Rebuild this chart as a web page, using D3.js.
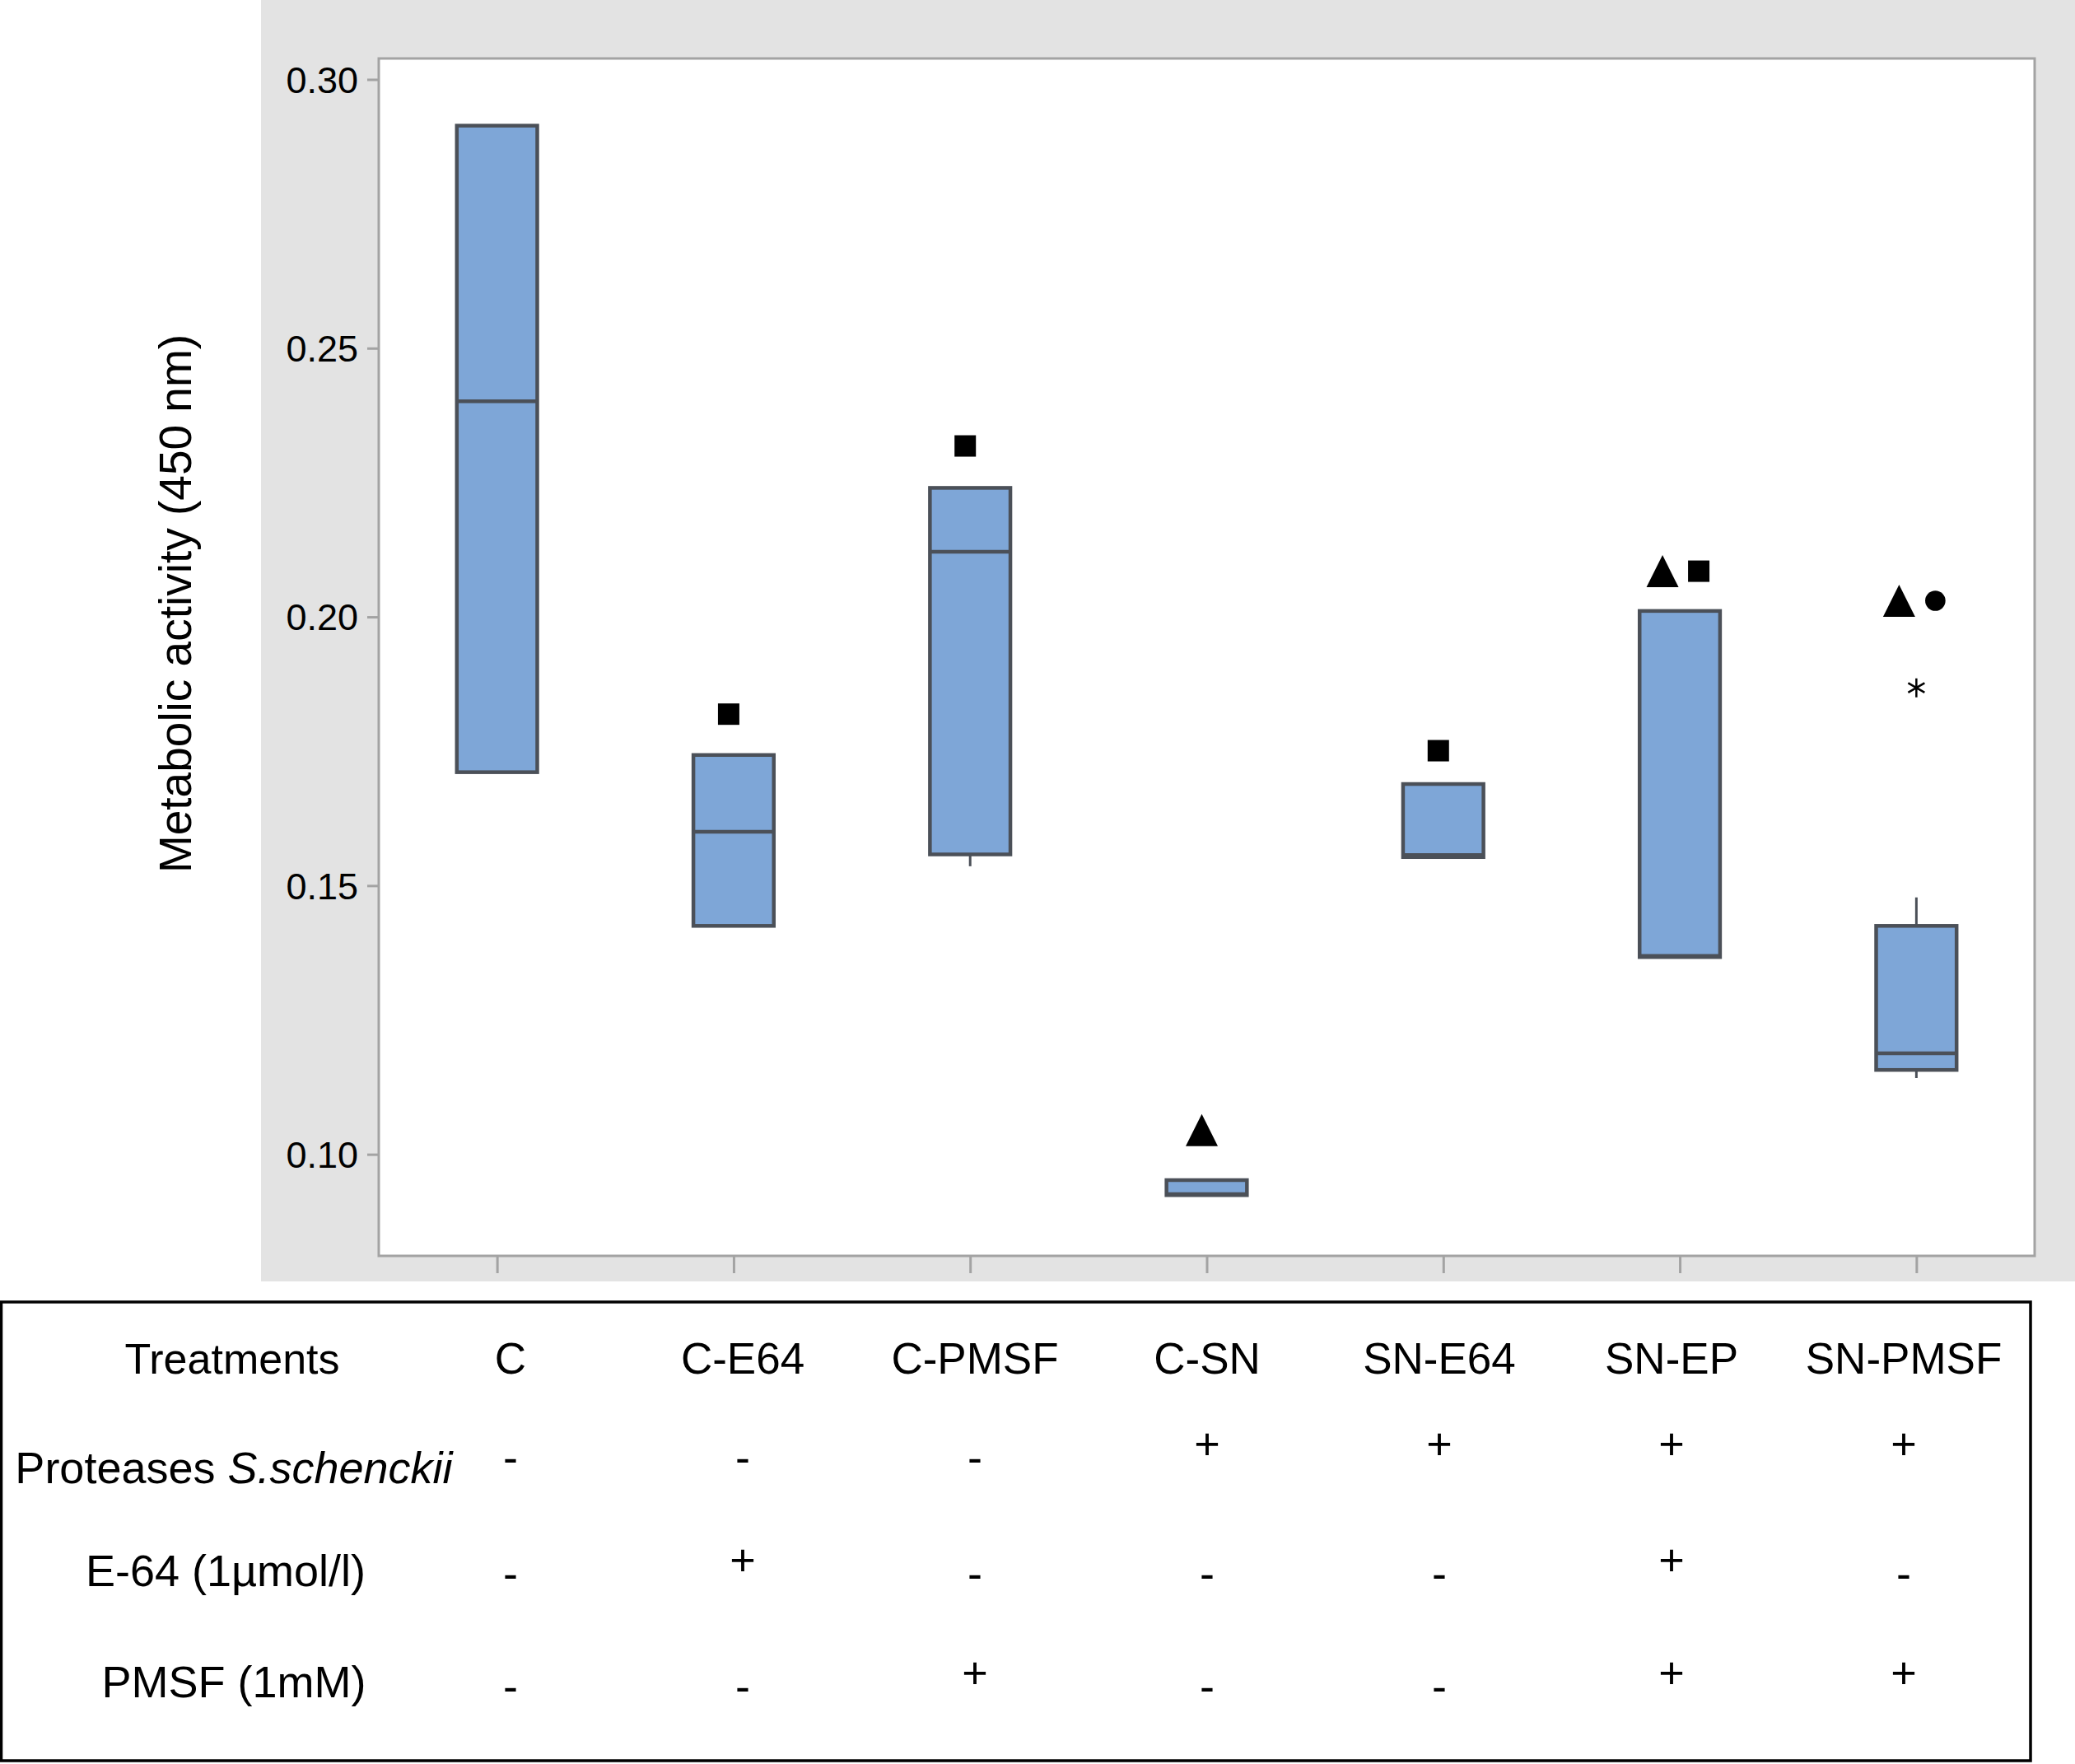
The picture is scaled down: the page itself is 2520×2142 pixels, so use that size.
<!DOCTYPE html>
<html>
<head>
<meta charset="utf-8">
<script src="https://cdn.jsdelivr.net/npm/d3@7"></script>
<style>
	body { margin: 0; background: #fff; }
	text { font-family: "Liberation Sans", Arial, Helvetica, sans-serif; fill: #000; }
</style>
</head>
<body>
<div class="chart"></div>
<script>
// ---------------------------------- DATA ----------------------------------
var treatments = ["C", "C-E64", "C-PMSF", "C-SN", "SN-E64", "SN-EP", "SN-PMSF"];
var q1     = [0.1711, 0.1425, 0.1558, 0.0924, 0.1553, 0.1367, 0.1157];
var median = [0.2401, 0.1600, 0.2121, 0.0926, 0.1557, 0.1369, 0.1188];
var q3     = [0.2914, 0.1743, 0.2240, 0.0952, 0.1689, 0.2011, 0.1425];
var whiskerLow  = [null, null, 0.1536, null, null, null, 0.1142];
var whiskerHigh = [null, null, null,   null, null, null, 0.1478];
var outliers = [[], [], [], [], [], [], [0.1868]];
var yTicks = [0.10, 0.15, 0.20, 0.25, 0.30];

// significance marks above each box
var markers = [[], ["square"], ["square"], ["triangle"], ["square"], ["triangle", "square"], ["triangle", "circle"]];
var markerY = [null, 0.1819, 0.2318, 0.1045, 0.1751, 0.2085, 0.2030];

// treatment table
var rowLabels = ["Proteases S.schenckii", "E-64 (1µmol/l)", "PMSF (1mM)"];
var proteases = ["-", "-", "-", "+", "+", "+", "+"];
var e64       = ["-", "+", "-", "-", "-", "+", "-"];
var pmsf      = ["-", "-", "+", "-", "-", "+", "+"];
var tableRows = [proteases, e64, pmsf];

// --------------------------------- LAYOUT ---------------------------------
var W = 2520, H = 2142;
var plotL = 460, plotR = 2471, plotT = 71, plotB = 1525;
var boxStroke = "#4b5058", boxFill = "#7ea6d7", frameGrey = "#a3a3a3";

var svg = d3.select(".chart").append("svg")
	.attr("width", W)
	.attr("height", H);

var x = d3.scalePoint()
	.domain(treatments)
	.range([plotL, plotR])
	.padding(0.5);

var y = d3.scaleLinear()
	.domain([0.0811, 0.3039])
	.range([plotB, plotT]);

var boxW = x.step() * 0.34;

/*---------------------------BACKGROUND PANEL--------------------------*/

svg.append("rect")
	.attr("x", 317).attr("y", 0)
	.attr("width", W - 317).attr("height", 1556)
	.attr("fill", "#e3e3e3");

svg.append("rect")
	.attr("x", plotL).attr("y", plotT)
	.attr("width", plotR - plotL).attr("height", plotB - plotT)
	.attr("fill", "#fff")
	.attr("stroke", frameGrey)
	.attr("stroke-width", 3);

/*---------------------------AXES--------------------------*/

var yAxis = svg.append("g")
	.attr("transform", "translate(" + plotL + ",0)")
	.call(d3.axisLeft(y).tickValues(yTicks).tickFormat(d3.format(".2f")).tickSize(14).tickPadding(11));

yAxis.select(".domain").remove();
yAxis.selectAll(".tick line").attr("stroke", frameGrey).attr("stroke-width", 3);
yAxis.selectAll(".tick text")
	.attr("font-size", 45)
	.attr("dy", "0.35em")
	.style("font-family", '"Liberation Sans", Arial, sans-serif');

var xAxis = svg.append("g")
	.attr("transform", "translate(0," + plotB + ")")
	.call(d3.axisBottom(x).tickSize(21).tickFormat(""));

xAxis.select(".domain").remove();
xAxis.selectAll(".tick line").attr("stroke", frameGrey).attr("stroke-width", 3);

svg.append("text")
	.attr("transform", "translate(232,733) rotate(-90)")
	.attr("text-anchor", "middle")
	.attr("font-size", 55)
	.text("Metabolic activity (450 nm)");

/*---------------------------BOXES--------------------------*/

var boxes = svg.selectAll(".box").data(treatments)
	.enter().append("g")
	.attr("class", "box");

boxes.each(function(t, i) {
	var g = d3.select(this);
	var cx = x(t);
	if (whiskerLow[i] !== null) {
		g.append("line")
			.attr("x1", cx).attr("x2", cx)
			.attr("y1", y(q1[i])).attr("y2", y(whiskerLow[i]))
			.attr("stroke", boxStroke).attr("stroke-width", 3);
	}
	if (whiskerHigh[i] !== null) {
		g.append("line")
			.attr("x1", cx).attr("x2", cx)
			.attr("y1", y(q3[i])).attr("y2", y(whiskerHigh[i]))
			.attr("stroke", boxStroke).attr("stroke-width", 3);
	}
	g.append("rect")
		.attr("x", cx - boxW / 2)
		.attr("y", y(q3[i]))
		.attr("width", boxW)
		.attr("height", y(q1[i]) - y(q3[i]))
		.attr("fill", boxFill)
		.attr("stroke", boxStroke)
		.attr("stroke-width", 4.5);
	g.append("line")
		.attr("x1", cx - boxW / 2).attr("x2", cx + boxW / 2)
		.attr("y1", y(median[i])).attr("y2", y(median[i]))
		.attr("stroke", boxStroke).attr("stroke-width", 4.5);
	outliers[i].forEach(function(v) {
		g.append("path")
			.attr("transform", "translate(" + cx + "," + y(v) + ")")
			.attr("d", d3.symbol().type(d3.symbolAsterisk).size(374)())
			.attr("fill", "none")
			.attr("stroke", "#000")
			.attr("stroke-width", 2.5);
	});
});

/*---------------------------SIGNIFICANCE MARKERS--------------------------*/

var tallTriangle = {
	draw: function(ctx, size) {
		var h = Math.sqrt(size);
		ctx.moveTo(0, -h / 2);
		ctx.lineTo(h / 2, h / 2);
		ctx.lineTo(-h / 2, h / 2);
		ctx.closePath();
	}
};
var shapes = {
	triangle: d3.symbol().type(tallTriangle).size(39 * 39)(),
	square: d3.symbol().type(d3.symbolSquare).size(26 * 26)(),
	circle: d3.symbol().type(d3.symbolCircle).size(Math.PI * 12.3 * 12.3)()
};

treatments.forEach(function(t, i) {
	var m = markers[i];
	var offsets = m.length === 1 ? [-6] : [-21, 23];
	m.forEach(function(kind, k) {
		svg.append("path")
			.attr("transform", "translate(" + (x(t) + offsets[k]) + "," + y(markerY[i]) + ")")
			.attr("d", shapes[kind])
			.attr("fill", "#000");
	});
});

/*---------------------------TREATMENT TABLE--------------------------*/

svg.append("rect")
	.attr("x", 1.5).attr("y", 1581)
	.attr("width", 2466 - 1.5).attr("height", 2138 - 1581)
	.attr("fill", "none")
	.attr("stroke", "#000")
	.attr("stroke-width", 3.5);

var colX = d3.scalePoint()
	.domain(treatments)
	.range([620, 2312]);

var labelX = 282;
var headerY = 1668;
var rowLabelY = [1801, 1926, 2061];
var minusY = [1788, 1929, 2066];

svg.append("text")
	.attr("x", labelX).attr("y", headerY)
	.attr("text-anchor", "middle")
	.attr("font-size", 52)
	.text("Treatments");

svg.selectAll(".head").data(treatments)
	.enter().append("text")
	.attr("class", "head")
	.attr("x", function(d) { return colX(d); })
	.attr("y", headerY)
	.attr("text-anchor", "middle")
	.attr("font-size", 53)
	.text(function(d) { return d; });

rowLabels.forEach(function(label, r) {
	var t = svg.append("text")
		.attr("x", r === 1 ? labelX - 8 : labelX + 2).attr("y", rowLabelY[r])
		.attr("text-anchor", "middle")
		.attr("font-size", 54);
	if (r === 0) {
		t.append("tspan").text("Proteases ");
		t.append("tspan").attr("font-style", "italic").text("S.schenckii");
	} else {
		t.text(label);
	}

	svg.selectAll(".sign" + r).data(tableRows[r])
		.enter().append("text")
		.attr("class", "sign" + r)
		.attr("x", function(d, i) { return colX(treatments[i]); })
		.attr("y", function(d) { return d === "+" ? minusY[r] - 16 : minusY[r]; })
		.attr("text-anchor", "middle")
		.attr("font-size", 54)
		.text(function(d) { return d; });
});
</script>
</body>
</html>
